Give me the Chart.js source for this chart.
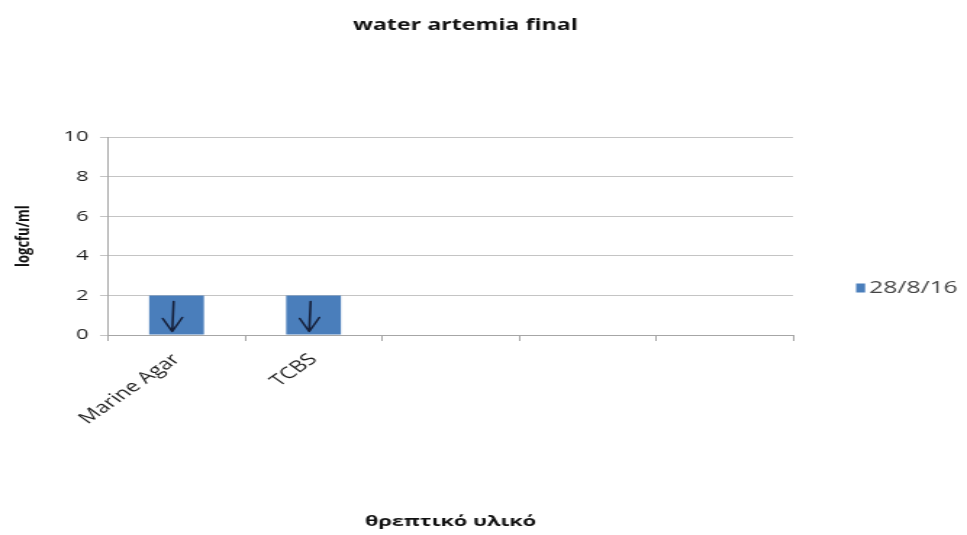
<!DOCTYPE html>
<html>
<head>
<meta charset="utf-8">
<script src="https://cdn.jsdelivr.net/npm/chart.js@4"></script>
<style>
  html, body { margin: 0; padding: 0; background: #ffffff; overflow: hidden; }
  #c { display: block; }
</style>
</head>
<body>
<canvas id="c" width="667" height="535" style="width:967px;height:535px"></canvas>
<script>
const categories = ["Marine Agar", "TCBS", "", "", ""];
const seriesLabel = "28/8/16";
const seriesValues = [2, 2, null, null, null];
const yTicks = [0, 2, 4, 6, 8, 10];

const barColor = "#4a7ebb";

const arrowPlugin = {
  id: "arrows",
  afterDatasetsDraw(chart) {
    const meta = chart.getDatasetMeta(0);
    const ctx = chart.ctx;
    ctx.save();
    ctx.strokeStyle = "#16203a";
    ctx.lineWidth = 1.6;
    ctx.lineCap = "round";
    ctx.lineJoin = "round";
    meta.data.forEach((bar, i) => {
      if (seriesValues[i] == null) return;
      const cx = bar.x - 3;
      const top = bar.y + 6;
      const bot = bar.base - 3;
      ctx.beginPath();
      ctx.moveTo(cx + 1, top);
      ctx.lineTo(cx, bot);
      ctx.moveTo(cx - 6.5, bot - 13);
      ctx.lineTo(cx, bot);
      ctx.lineTo(cx + 7, bot - 14);
      ctx.stroke();
    });
    ctx.restore();
  }
};

const legendPlugin = {
  id: "customLegend",
  afterDraw(chart) {
    const ctx = chart.ctx;
    const ds = chart.data.datasets[0];
    const x0 = chart.chartArea.right + 43.5;
    const yc = 288;
    ctx.save();
    ctx.fillStyle = ds.backgroundColor;
    ctx.fillRect(x0, yc - 4.5, 6.2, 9);
    ctx.fillStyle = "#444444";
    ctx.font = "17px 'Open Sans'";
    ctx.textBaseline = "middle";
    ctx.textAlign = "left";
    ctx.fillText(ds.label, x0 + 9, yc);
    ctx.restore();
  }
};

new Chart(document.getElementById("c"), {
  type: "bar",
  data: {
    labels: categories,
    datasets: [{
      label: seriesLabel,
      data: seriesValues,
      backgroundColor: barColor,
      barPercentage: 0.8,
      categoryPercentage: 0.5
    }]
  },
  options: {
    responsive: false,
    animation: false,
    layout: { padding: { left: 8, right: 33, top: 16, bottom: 4 } },
    plugins: {
      legend: { display: false },
      tooltip: { enabled: false },
      title: {
        display: true,
        text: "water artemia final",
        color: "#111111",
        font: { family: "'Open Sans'", size: 16, weight: "bold" },
        padding: { top: 0, bottom: 102 }
      }
    },
    scales: {
      x: {
        offset: true,
        afterFit(axis) { axis.height = 196; },
        grid: {
          offset: true,
          drawOnChartArea: false,
          drawTicks: true,
          tickLength: 6,
          color: "#a6a6a6"
        },
        border: { display: true, color: "#a6a6a6" },
        ticks: {
          color: "#1e1e1e",
          font: { family: "'Open Sans'", size: 16 },
          minRotation: 45,
          maxRotation: 45,
          autoSkip: false,
          padding: 9
        },
        title: {
          display: true,
          text: "θρεπτικό υλικό",
          color: "#111111",
          font: { family: "'Open Sans'", size: 15, weight: "bold" },
          padding: { top: 0, bottom: 0 }
        }
      },
      y: {
        min: 0,
        max: 10,
        afterBuildTicks(axis) {
          axis.ticks = yTicks.map(v => ({ value: v }));
        },
        afterFit(axis) { axis.width = 66.5; },
        grid: {
          color: "#c4c4c4",
          tickLength: 5.5,
          lineWidth: 1
        },
        border: { display: true, color: "#a6a6a6" },
        ticks: {
          color: "#1e1e1e",
          font: { family: "'Open Sans'", size: 15 },
          padding: 8
        },
        title: {
          display: true,
          text: "logcfu/ml",
          color: "#111111",
          font: { family: "'Open Sans'", size: 13, weight: "bold" },
          padding: { top: 0, bottom: 0 }
        }
      },
      yRight: {
        type: "linear",
        position: "right",
        display: true,
        afterFit(axis) { axis.width = 87; },
        grid: { display: false, drawTicks: false },
        border: { display: false },
        ticks: { display: false }
      }
    }
  },
  plugins: [arrowPlugin, legendPlugin]
});
</script>
</body>
</html>
